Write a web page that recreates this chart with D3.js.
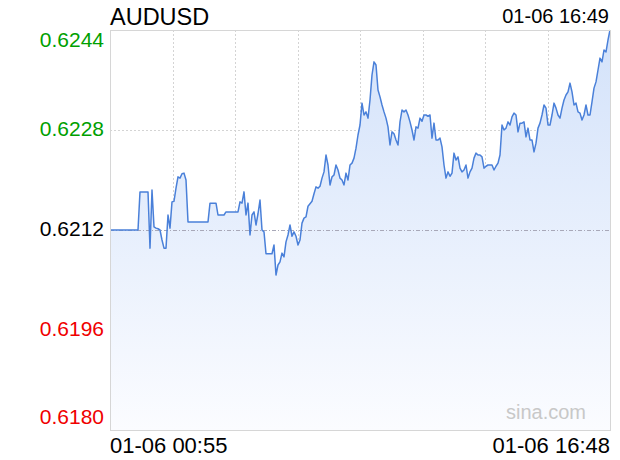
<!DOCTYPE html>
<html><head><meta charset="utf-8">
<script src="https://cdn.jsdelivr.net/npm/d3@7"></script>
<style>
body{margin:0;background:#fff}
svg{display:block}
text{font-family:"Liberation Sans",Arial,Helvetica,sans-serif}
</style>
</head><body>
<svg id="chart" width="620" height="460"></svg>
<script>
// ---------- data ----------
const symbol = "AUDUSD";
const datePrefix = "01-06";
const startTime = "00:55";
const endTime = "16:48";
const updateTime = "16:49";
const prevClose = 0.6212;
const yTickValues = [0.6244, 0.6228, 0.6212, 0.6196, 0.6180];
const watermark = "sina.com";
const prices = [
0.62120,0.62120,0.62120,0.62120,0.62120,0.62120,0.62120,0.62120,0.62120,0.62120,0.62120,0.62120,0.62120,0.62120,0.62120,
0.62181,0.62181,0.62181,0.62181,0.62181,
0.62091,0.62184,0.62125,0.62123,0.62122,0.62120,0.62104,0.62091,0.62091,0.62144,0.62123,0.62165,0.62166,0.62187,0.62205,0.62203,0.62210,0.62211,0.62200,
0.62133,0.62133,0.62133,0.62133,0.62133,0.62133,0.62133,0.62133,0.62133,0.62133,0.62133,
0.62163,0.62163,0.62163,0.62163,
0.62144,0.62144,0.62144,0.62144,
0.62149,0.62149,0.62149,0.62149,0.62149,0.62149,0.62149,
0.62165,0.62163,0.62181,0.62144,0.62163,0.62112,0.62144,0.62149,0.62128,0.62146,0.62168,0.62120,0.62117,
0.62082,0.62082,0.62082,0.62082,
0.62096,0.62048,0.62064,0.62069,0.62083,0.62077,0.62101,0.62112,0.62128,0.62110,0.62117,0.62110,0.62096,0.62104,
0.62131,0.62139,0.62141,0.62158,0.62162,0.62166,0.62178,0.62189,0.62187,0.62190,0.62203,0.62213,0.62240,0.62224,
0.62192,0.62205,0.62208,0.62224,0.62216,0.62203,0.62200,0.62192,0.62211,0.62200,0.62224,0.62227,0.62235,0.62251,
0.62272,0.62288,0.62323,0.62304,0.62309,0.62299,0.62328,0.62368,0.62389,0.62384,0.62344,0.62333,0.62320,0.62309,
0.62299,0.62285,0.62256,0.62277,0.62274,0.62264,0.62256,0.62293,0.62312,0.62309,0.62312,0.62304,0.62293,0.62280,
0.62264,0.62285,0.62283,0.62299,0.62294,0.62304,0.62304,0.62302,0.62304,0.62267,0.62291,0.62264,0.62264,0.62267,
0.62253,0.62224,0.62203,0.62213,0.62206,0.62211,0.62243,0.62232,0.62237,0.62219,0.62213,0.62216,0.62224,0.62203,
0.62213,0.62219,0.62235,0.62243,0.62240,0.62240,0.62237,0.62219,0.62222,0.62224,0.62224,0.62224,0.62216,0.62222,
0.62227,0.62240,0.62288,0.62280,0.62283,0.62293,0.62288,0.62301,0.62307,0.62304,0.62277,0.62291,0.62291,0.62293,
0.62269,0.62283,0.62264,0.62264,0.62245,0.62259,0.62283,0.62291,0.62304,0.62320,0.62315,0.62288,0.62288,0.62304,
0.62323,0.62315,0.62304,0.62299,0.62315,0.62328,0.62336,0.62341,0.62355,0.62341,0.62320,0.62323,0.62309,0.62307,
0.62296,0.62304,0.62320,0.62304,0.62304,0.62325,0.62347,0.62357,0.62376,0.62395,0.62389,0.62408,0.62405,0.62424,
0.62440
];

// ---------- layout ----------
const plot = {left: 110, right: 610, top: 30, bottom: 430};

const parse = d3.timeParse("%H:%M");
const t0 = parse(startTime), t1 = parse(endTime);
const n = prices.length;
const data = prices.map((p, i) => ({t: new Date(+t0 + i * (t1 - t0) / (n - 1)), p}));

const x = d3.scaleTime().domain([t0, t1]).range([plot.left, plot.right]);
const y = d3.scaleLinear().domain([d3.min(yTickValues), d3.max(yTickValues)]).range([plot.bottom, plot.top]);

const svg = d3.select("#chart");

// gradient
const defs = svg.append("defs");
const grad = defs.append("linearGradient").attr("id", "fillGrad")
  .attr("gradientUnits", "userSpaceOnUse")
  .attr("x1", 0).attr("x2", 0).attr("y1", plot.top).attr("y2", plot.bottom);
grad.append("stop").attr("offset", "0%").attr("stop-color", "#d3e2fa");
grad.append("stop").attr("offset", "100%").attr("stop-color", "#fbfcff");

// vertical grid (8 equal time divisions)
const vTicks = d3.range(1, 8).map(i => new Date(+t0 + i * (t1 - t0) / 8));
svg.append("g").selectAll("line").data(vTicks).join("line")
  .attr("x1", d => Math.round(x(d)) + 0.5).attr("x2", d => Math.round(x(d)) + 0.5)
  .attr("y1", plot.top).attr("y2", plot.bottom)
  .attr("stroke", "#d4d4d4").attr("stroke-width", 1).attr("stroke-dasharray", "2,2");

// horizontal grid
svg.append("g").selectAll("line").data(yTickValues.filter(v => v !== prevClose && v !== d3.min(yTickValues) && v !== d3.max(yTickValues))).join("line")
  .attr("x1", plot.left).attr("x2", plot.right)
  .attr("y1", d => Math.round(y(d)) + 0.5).attr("y2", d => Math.round(y(d)) + 0.5)
  .attr("stroke", "#d4d4d4").attr("stroke-width", 1).attr("stroke-dasharray", "2,2");

// area
const area = d3.area().x(d => x(d.t)).y0(plot.bottom).y1(d => y(d.p));
svg.append("path").datum(data).attr("d", area).attr("fill", "url(#fillGrad)");

// previous close line
svg.append("line")
  .attr("x1", plot.left).attr("x2", plot.right)
  .attr("y1", Math.round(y(prevClose)) + 0.5).attr("y2", Math.round(y(prevClose)) + 0.5)
  .attr("stroke", "#a8a8b8").attr("stroke-width", 1).attr("stroke-dasharray", "4,2,1,2");

// price line
const line = d3.line().x(d => x(d.t)).y(d => y(d.p));
svg.append("path").datum(data).attr("d", line)
  .attr("fill", "none").attr("stroke", "#4a80d9").attr("stroke-width", 1.5)
  .attr("stroke-linejoin", "round");

// frame
svg.append("rect")
  .attr("x", plot.left + 0.5).attr("y", plot.top + 0.5)
  .attr("width", plot.right - plot.left).attr("height", plot.bottom - plot.top)
  .attr("fill", "none").attr("stroke", "#d6d6d6").attr("stroke-width", 1);

// y labels
svg.append("g").selectAll("text").data(yTickValues).join("text")
  .attr("x", 104)
  .attr("y", d => Math.min(Math.max(y(d) + 6, 47), 424))
  .attr("text-anchor", "end")
  .attr("font-size", 21)
  .attr("fill", d => d > prevClose ? "#00a000" : d < prevClose ? "#f00000" : "#000")
  .text(d => d.toFixed(4));

// title and update time
svg.append("text").attr("x", plot.left).attr("y", 25).attr("font-size", 23.5).attr("fill", "#000").text(symbol);
svg.append("text").attr("x", plot.right - 1).attr("y", 23).attr("text-anchor", "end").attr("font-size", 20).attr("fill", "#000")
  .text(datePrefix + " " + updateTime);

// x labels
const fmt = d3.timeFormat("%H:%M");
svg.append("g").selectAll("text").data(x.domain()).join("text")
  .attr("x", d => x(d))
  .attr("y", 453)
  .attr("text-anchor", (d, i) => i === 0 ? "start" : "end")
  .attr("font-size", 22)
  .attr("fill", "#000")
  .text(d => datePrefix + " " + fmt(d));

// watermark
svg.append("text").attr("x", 586).attr("y", 419).attr("text-anchor", "end")
  .attr("font-size", 20).attr("fill", "#c8c8c8").text(watermark);
</script>
</body></html>
